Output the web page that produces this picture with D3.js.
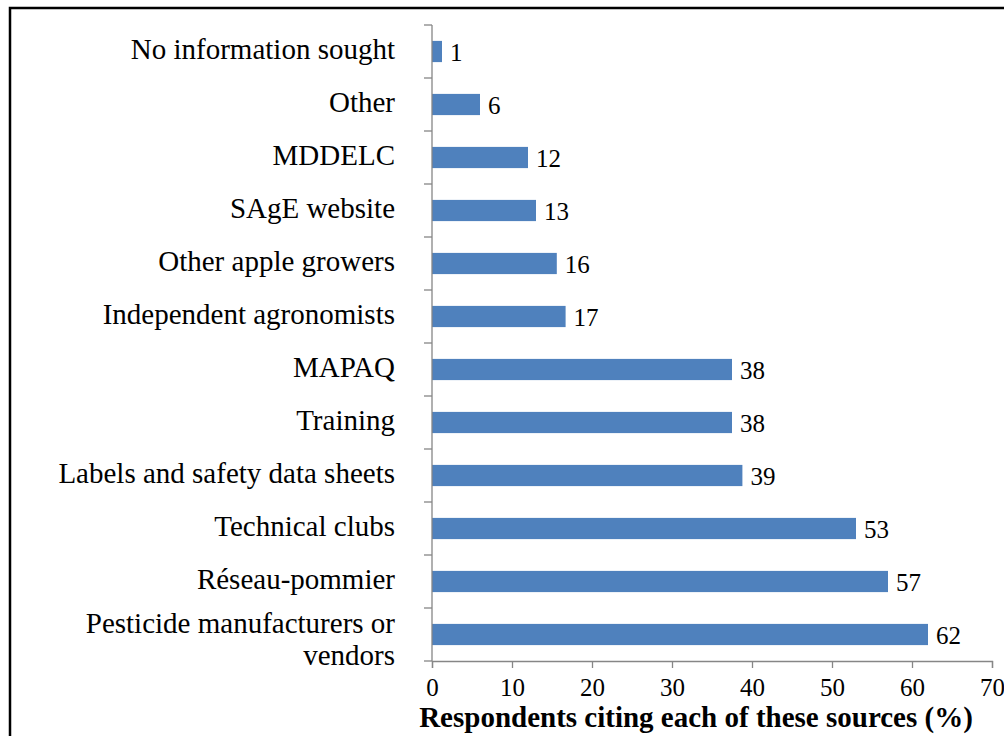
<!DOCTYPE html>
<html>
<head>
<meta charset="utf-8">
<script src="https://cdn.jsdelivr.net/npm/d3@7"></script>
<style>
  html, body { margin: 0; padding: 0; background: #fff; }
  text { font-family: "Liberation Serif", "Times New Roman", serif; fill: #000; }
</style>
</head>
<body>
<div id="chart"></div>
<script>
// Sources of information, top to bottom
const categories = [
    "No information sought",
    "Other",
    "MDDELC",
    "SAgE website",
    "Other apple growers",
    "Independent agronomists",
    "MAPAQ",
    "Training",
    "Labels and safety data sheets",
    "Technical clubs",
    "Réseau-pommier",
    "Pesticide manufacturers or vendors"
];
// % of respondents (bar lengths, labels are rounded)
const values = [1.25, 6, 12, 13, 15.6, 16.7, 37.5, 37.5, 38.8, 53, 57, 62];
const xTicks = [0, 10, 20, 30, 40, 50, 60, 70];
const xTitle = "Respondents citing each of these sources (%)";

const W = 1004, H = 736;
const plot = { left: 432, right: 992, top: 25, bottom: 661 };
const axisColor = "#868686";
const barColor = "#4F81BD";

const svg = d3.select("#chart").append("svg")
    .attr("width", W)
    .attr("height", H);

svg.append("rect").attr("width", W).attr("height", H).attr("fill", "#fff");

// frame (right and bottom edges fall outside the picture)
svg.append("rect")
    .attr("x", 10).attr("y", 8)
    .attr("width", W + 20).attr("height", H + 20)
    .attr("fill", "none")
    .attr("stroke", "#000")
    .attr("stroke-width", 2.5);

const x = d3.scaleLinear().domain([0, 70]).range([plot.left, plot.right]);
const y = d3.scaleBand()
    .domain(categories)
    .range([plot.top, plot.bottom])
    .paddingInner(0.6)
    .paddingOuter(0.3);
const step = y.step();

// bars
svg.selectAll(".bar")
    .data(categories)
    .enter().append("rect")
    .attr("class", "bar")
    .attr("x", x(0))
    .attr("y", d => y(d))
    .attr("width", (d, i) => x(values[i]) - x(0))
    .attr("height", y.bandwidth())
    .attr("fill", barColor);

// value labels
const fmt = d3.format(".0f");
svg.selectAll(".val")
    .data(categories)
    .enter().append("text")
    .attr("class", "val")
    .attr("x", (d, i) => x(values[i]) + 8)
    .attr("y", d => y(d) + y.bandwidth() / 2 + 9)
    .attr("font-size", 25)
    .text((d, i) => fmt(values[i]));

// y axis: line + ticks on band boundaries
svg.append("line")
    .attr("x1", plot.left).attr("x2", plot.left)
    .attr("y1", plot.top).attr("y2", plot.bottom)
    .attr("stroke", axisColor).attr("stroke-width", 1.3);
svg.selectAll(".ytick")
    .data(d3.range(categories.length + 1))
    .enter().append("line")
    .attr("class", "ytick")
    .attr("x1", plot.left - 8).attr("x2", plot.left)
    .attr("y1", i => plot.top + i * step)
    .attr("y2", i => plot.top + i * step)
    .attr("stroke", axisColor).attr("stroke-width", 1.3);

// category labels, wrapped when too long
const maxLabel = 360;
const labels = svg.selectAll(".cat")
    .data(categories)
    .enter().append("text")
    .attr("class", "cat")
    .attr("text-anchor", "end")
    .attr("font-size", 29);

labels.each(function(d) {
    const t = d3.select(this);
    const cy = y(d) + y.bandwidth() / 2;
    const words = d.split(" ");
    let lines = [], line = [];
    const probe = t.append("tspan");
    words.forEach(w => {
        line.push(w);
        probe.text(line.join(" "));
        if (probe.node().getComputedTextLength() > maxLabel && line.length > 1) {
            line.pop();
            lines.push(line.join(" "));
            line = [w];
        }
    });
    lines.push(line.join(" "));
    probe.remove();
    const base = lines.length > 1 ? cy - 2 : cy + 7;
    lines.forEach((l, k) => {
        t.append("tspan")
            .attr("x", 395)
            .attr("y", base + k * 32)
            .text(l);
    });
});

// x axis
const xAxis = d3.axisBottom(x).tickValues(xTicks).tickSize(7).tickPadding(10).tickFormat(d3.format("d"));
const gx = svg.append("g")
    .attr("transform", `translate(0,${plot.bottom})`)
    .call(xAxis);
gx.select(".domain").attr("stroke", axisColor).attr("stroke-width", 1.3);
gx.selectAll(".tick line").attr("stroke", axisColor).attr("stroke-width", 1.3);
gx.selectAll(".tick text")
    .attr("font-family", "'Liberation Serif', 'Times New Roman', serif")
    .attr("font-size", 25)
    .attr("fill", "#000")
    .attr("dy", "0.71em");

svg.append("text")
    .attr("x", 696)
    .attr("y", 727)
    .attr("text-anchor", "middle")
    .attr("font-size", 29)
    .attr("font-weight", "bold")
    .text(xTitle);
</script>
</body>
</html>
